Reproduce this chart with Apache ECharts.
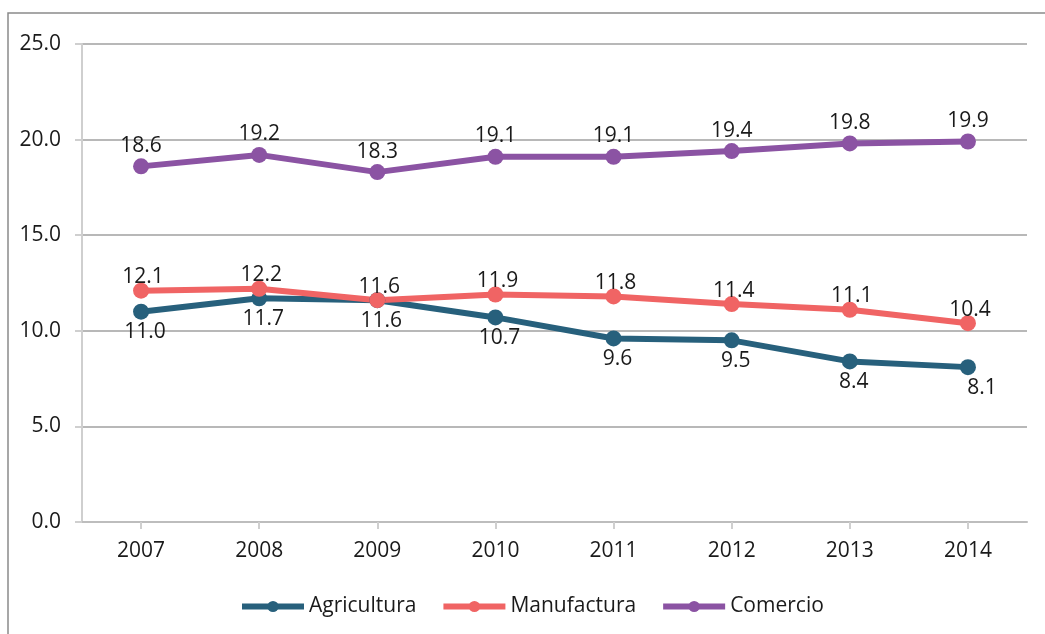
<!DOCTYPE html>
<html><head><meta charset="utf-8">
<script src="https://cdn.jsdelivr.net/npm/echarts@6/dist/echarts.min.js"></script>
<style>html,body{margin:0;padding:0;background:#fff}#c{width:1045px;height:634px}</style>
</head><body><div id="c"></div>
<script>
const years = ['2007','2008','2009','2010','2011','2012','2013','2014'];
const agricultura = [11.0, 11.7, 11.6, 10.7, 9.6, 9.5, 8.4, 8.1];
const manufactura = [12.1, 12.2, 11.6, 11.9, 11.8, 11.4, 11.1, 10.4];
const comercio = [18.6, 19.2, 18.3, 19.1, 19.1, 19.4, 19.8, 19.9];
const yTicks = {min: 0, max: 25, interval: 5};

const FONT = "'Open Sans', 'Liberation Sans', sans-serif";
const FS = 21;
const TXT = '#1a1a1a';
const chart = echarts.init(document.getElementById('c'));
function mk(name, data, color, pos, offset, lastOffset) {
  const d = data.map((v, i) => (lastOffset && i === data.length - 1)
    ? {value: v, label: {offset: lastOffset}} : v);
  return {
    name, type: 'line', data: d, color,
    symbol: 'circle', symbolSize: 16,
    lineStyle: {width: 6, color},
    itemStyle: {color},
    label: {show: true, position: pos, offset, color: TXT, fontSize: FS, fontFamily: FONT,
      formatter: p => Number(p.value).toFixed(1)},
    z: 3
  };
}
chart.setOption({
  animation: false,
  graphic: [{type: 'rect', shape: {x: 8, y: 13, width: 1100, height: 700},
    style: {fill: 'none', stroke: '#8a8a8a', lineWidth: 1.5}, silent: true}],
  grid: {left: 82, right: 18, top: 44, bottom: 112},
  legend: {
    bottom: 12, left: 234, itemWidth: 62, itemHeight: 14, itemGap: 24,
    lineStyle: {width: 6},
    textStyle: {fontSize: FS, fontFamily: FONT, color: TXT},
    data: ['Agricultura', 'Manufactura', 'Comercio']
  },
  xAxis: {
    type: 'category', data: years, boundaryGap: true,
    axisLine: {lineStyle: {color: '#BDBDBD', width: 2}},
    axisTick: {show: true, alignWithLabel: true, length: 7, lineStyle: {color: '#CFCFCF', width: 2}},
    axisLabel: {fontSize: FS, fontFamily: FONT, color: TXT, margin: 19}
  },
  yAxis: {
    type: 'value', min: yTicks.min, max: yTicks.max, interval: yTicks.interval,
    axisLine: {show: true, lineStyle: {color: '#CFCFCF', width: 2}},
    axisTick: {show: true, length: 7, lineStyle: {color: '#CFCFCF', width: 2}},
    splitLine: {lineStyle: {color: '#B8B8B8', width: 2}},
    axisLabel: {fontSize: FS, fontFamily: FONT, color: TXT, margin: 21,
      formatter: v => v.toFixed(1)}
  },
  series: [
    mk('Agricultura', agricultura, '#27607C', 'bottom', [4, -3], [14, -3]),
    mk('Manufactura', manufactura, '#F06464', 'top', [2, 10]),
    mk('Comercio', comercio, '#8B53A3', 'top', [0, 3])
  ]
});
</script></body></html>
